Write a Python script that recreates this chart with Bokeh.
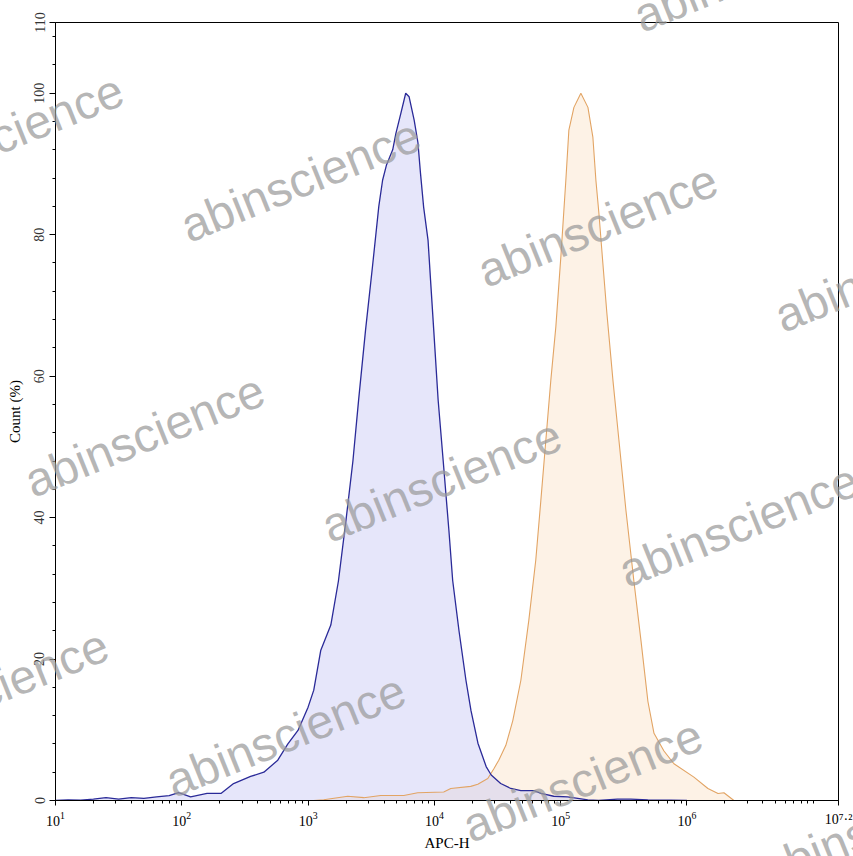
import numpy as np
from bokeh.plotting import figure
from bokeh.models import Range1d, FixedTicker, LogTickFormatter
from bokeh.core.properties import value
from bokeh.embed import file_html
from bokeh.resources import INLINE

# ---------------- data ----------------
# blue histogram (isotype / control): log10(APC-H) and Count (%)
blue_log10 = [1.00, 1.10, 1.20, 1.30, 1.40, 1.50, 1.60, 1.70, 1.80, 1.90,
              1.975, 2.07, 2.20, 2.31, 2.41, 2.545, 2.65, 2.76, 2.84, 2.92,
              3.00, 3.045, 3.10, 3.18, 3.24, 3.30, 3.355, 3.40, 3.455, 3.51,
              3.56, 3.59, 3.62, 3.67, 3.695, 3.735, 3.773, 3.80, 3.84, 3.87,
              3.89, 3.915, 3.95, 3.97, 3.995, 4.03, 4.07, 4.115, 4.145, 4.195,
              4.25, 4.29, 4.345, 4.41, 4.45, 4.525, 4.605, 4.685, 4.79, 4.845,
              4.945, 5.055, 5.215, 5.30, 5.45, 5.555, 5.69, 5.87, 6.00]
blue_count = [0.0, 0.1, 0.05, 0.2, 0.4, 0.2, 0.4, 0.3, 0.5, 0.7,
              1.1, 0.5, 1.0, 1.0, 2.4, 3.4, 4.0, 5.7, 8.0, 9.9,
              13.2, 15.6, 21.2, 24.8, 31.0, 39.6, 48.0, 56.6, 66.5, 75.5,
              84.0, 87.7, 89.8, 92.0, 94.3, 97.2, 100.0, 99.5, 96.2, 93.0,
              88.7, 83.9, 79.2, 73.5, 66.5, 56.6, 48.0, 38.2, 31.1, 24.0,
              17.0, 12.7, 8.1, 4.8, 3.6, 2.4, 1.7, 1.4, 1.4, 1.0,
              0.6, 0.5, 0.1, 0.0, 0.2, 0.2, 0.1, 0.05, 0.0]

# orange histogram (stained sample)
orange_log10 = [3.044, 3.124, 3.314, 3.441, 3.575, 3.758, 3.868, 4.074, 4.130, 4.288,
                4.344, 4.423, 4.471, 4.510, 4.566, 4.621, 4.685, 4.748, 4.803, 4.843,
                4.883, 4.922, 4.962, 5.002, 5.041, 5.065, 5.105, 5.160, 5.216, 5.255,
                5.279, 5.303, 5.334, 5.366, 5.414, 5.461, 5.517, 5.580, 5.636, 5.691,
                5.739, 5.818, 5.897, 6.055, 6.166, 6.246, 6.293, 6.372]
orange_count = [0.0, 0.1, 0.6, 0.4, 0.7, 0.7, 1.1, 1.2, 1.7, 2.0,
                2.3, 3.1, 4.5, 5.7, 7.8, 11.3, 17.0, 25.5, 34.0, 42.4,
                51.0, 59.4, 67.0, 77.0, 87.7, 94.8, 98.0, 100.0, 98.0, 93.8,
                87.7, 83.0, 76.0, 68.9, 59.4, 51.0, 41.0, 31.0, 22.6, 14.0,
                9.5, 7.0, 5.2, 3.3, 1.7, 1.0, 1.1, 0.0]

x_tick_exponents = [1, 2, 3, 4, 5, 6, 7.2]
x_end_label = "10\u2077\u00b7\u00b2"   # 10^7.2 (last, non-integer decade)
y_ticks = [0, 20, 40, 60, 80, 100, 110]

x_label = "APC-H"
y_label = "Count (%)"
watermark_text = "abinscience"

# ---------------- figure ----------------
X_MIN_EXP, X_MAX_EXP = 1.0, 7.2
Y_MIN, Y_MAX = 0, 110

p = figure(width=853, height=856, x_axis_type="log",
           x_range=Range1d(10 ** X_MIN_EXP, 10 ** X_MAX_EXP),
           y_range=Range1d(Y_MIN, Y_MAX),
           output_backend="svg", toolbar_location=None,
           min_border_left=55, min_border_right=15,
           min_border_top=22, min_border_bottom=56)
p.background_fill_color = "white"
p.border_fill_color = "white"
p.outline_line_color = "black"
p.outline_line_width = 1
p.xgrid.visible = False
p.ygrid.visible = False

SERIF = "Liberation Serif"

# x axis
minor_x = [m * 10 ** k for k in range(1, 7) for m in range(2, 10)] + [1e7]
major_x = [10 ** e for e in x_tick_exponents]
p.xaxis.ticker = FixedTicker(ticks=major_x, minor_ticks=minor_x)
p.xaxis.formatter = LogTickFormatter()
p.xaxis.major_label_overrides = {major_x[-1]: x_end_label}
p.xaxis.major_label_text_font = SERIF
p.xaxis.major_label_text_font_size = "14px"
p.xaxis.major_label_text_color = "black"
p.xaxis.major_label_standoff = 6
p.xaxis.major_tick_in = 0
p.xaxis.major_tick_out = 5
p.xaxis.minor_tick_in = 0
p.xaxis.minor_tick_out = 3
p.xaxis.axis_line_color = "black"
p.xaxis.major_tick_line_color = "black"
p.xaxis.minor_tick_line_color = "black"
p.xaxis.axis_label = x_label
p.xaxis.axis_label_text_font = SERIF
p.xaxis.axis_label_text_font_size = "15px"
p.xaxis.axis_label_text_font_style = "normal"
p.xaxis.axis_label_text_color = "black"
p.xaxis.axis_label_standoff = 5

# y axis
minor_y = [v for v in range(4, 110, 4) if v % 20 != 0]
p.yaxis.ticker = FixedTicker(ticks=y_ticks, minor_ticks=minor_y)
p.yaxis.major_label_orientation = "vertical"
p.yaxis.major_label_text_font = SERIF
p.yaxis.major_label_text_font_size = "14px"
p.yaxis.major_label_text_color = "#333333"
p.yaxis.major_label_standoff = 5
p.yaxis.major_tick_in = 0
p.yaxis.major_tick_out = 6
p.yaxis.minor_tick_in = 0
p.yaxis.minor_tick_out = 3
p.yaxis.axis_line_color = "black"
p.yaxis.axis_label = y_label
p.yaxis.axis_label_text_font = SERIF
p.yaxis.axis_label_text_font_size = "15px"
p.yaxis.axis_label_text_font_style = "normal"
p.yaxis.axis_label_text_color = "black"
p.yaxis.axis_label_standoff = 9

# ---------------- histograms ----------------
bx = [10 ** v for v in blue_log10]
ox = [10 ** v for v in orange_log10]

p.varea(x=ox, y1=[0] * len(ox), y2=orange_count, fill_color="#fdf2e6", fill_alpha=1.0)
p.varea(x=bx, y1=[0] * len(bx), y2=blue_count, fill_color=(200, 200, 245), fill_alpha=0.45)
p.line(ox, orange_count, line_color="#e2a464", line_width=1.1)
p.line(bx, blue_count, line_color="#2a2a98", line_width=1.3)

# ---------------- watermark (repeated, drawn over the whole page) ----------------
# frame geometry in page pixels, used to place the repeated watermark
FL, FR, FT, FB = 55.0, 838.0, 22.0, 800.0
wm_centers = [(753, -30), (3, 135), (300, 180), (597, 225), (894, 270),
              (144, 435), (441, 480), (738, 525), (-12, 690), (285, 735),
              (582, 780), (879, 825)]
wm_x, wm_y = [], []
for sx, sy in wm_centers:
    xe = X_MIN_EXP + (sx - FL) / (FR - FL) * (X_MAX_EXP - X_MIN_EXP)
    wm_x.append(10 ** xe)
    wm_y.append(Y_MIN + (FB - sy) / (FB - FT) * (Y_MAX - Y_MIN))
p.text(x=wm_x, y=wm_y, text=[watermark_text] * len(wm_x),
       text_font=value("Liberation Sans"), text_font_size="48px",
       text_color="#9a9a9a", text_alpha=0.72,
       text_align="center", text_baseline="middle",
       angle=22, angle_units="deg", level="overlay")

open("out.html", "w").write(file_html(p, INLINE))
